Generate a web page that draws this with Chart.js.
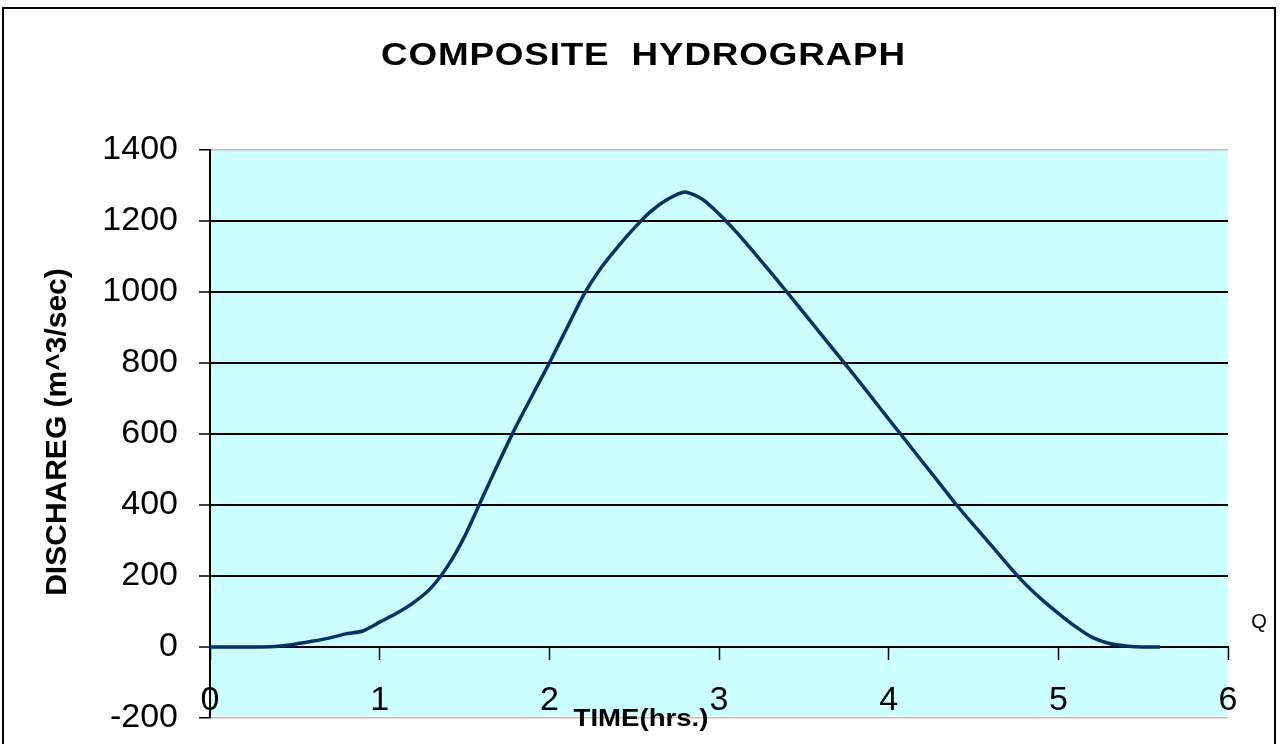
<!DOCTYPE html>
<html>
<head>
<meta charset="utf-8">
<script src="https://cdn.jsdelivr.net/npm/chart.js@4"></script>
<style>
  html, body { margin: 0; padding: 0; background: #fff; }
  canvas { display: block; }
</style>
</head>
<body>
<canvas id="hydro" width="1282" height="744"></canvas>
<script>
const chartTitle = 'COMPOSITE  HYDROGRAPH';
const xTitle = 'TIME(hrs.)';
const yTitle = 'DISCHAREG (m^3/sec)';
const seriesName = 'Q';

// time in hours
const timeHrs = [0, 0.1, 0.2, 0.3, 0.4, 0.5, 0.6, 0.7, 0.8, 0.9,
    1.0, 1.1, 1.2, 1.3, 1.4, 1.5, 1.6, 1.7, 1.8, 1.9,
    2.0, 2.1, 2.2, 2.3, 2.4, 2.5, 2.6, 2.7, 2.8, 2.9,
    3.0, 3.1, 3.2, 3.3, 3.4, 3.5, 3.6, 3.7, 3.8, 3.9,
    4.0, 4.1, 4.2, 4.3, 4.4, 4.5, 4.6, 4.7, 4.8, 4.9,
    5.0, 5.1, 5.2, 5.3, 5.4, 5.5, 5.6];
// discharge, m^3/sec
const discharge = [0, 0, 0, 0, 2, 8, 16, 25, 37, 45,
    70, 95, 125, 165, 227, 311, 415, 518, 618, 709,
    800, 895, 990, 1065, 1125, 1180, 1228, 1262, 1282, 1262,
    1220, 1170, 1115, 1058, 1000, 941, 882, 823, 764, 703,
    642, 582, 521, 461, 400, 344, 289, 233, 180, 135,
    95, 58, 27, 10, 3, 0, 0];

const yMin = -200, yMax = 1400, yStep = 200;
const xMin = 0, xMax = 6, xStep = 1;

const points = timeHrs.map((t, i) => ({ x: t, y: discharge[i] }));

const decor = {
    id: 'decor',
    beforeDraw(chart) {
        const { ctx, chartArea: a } = chart;
        ctx.save();
        ctx.fillStyle = '#ffffff';
        ctx.fillRect(0, 0, chart.width, chart.height);
        ctx.fillStyle = '#ccffff';
        ctx.fillRect(a.left, a.top, a.right - a.left, a.bottom - a.top - 2);
        ctx.restore();
    },
    afterDraw(chart) {
        const { ctx } = chart;
        ctx.save();
        // outer frame
        ctx.strokeStyle = '#000';
        ctx.lineWidth = 2;
        ctx.strokeRect(3, 8, 1272, 745);

        ctx.fillStyle = '#000';
        // main title: the source picture is stretched sideways
        ctx.save();
        ctx.font = 'bold 32px "Liberation Sans", Arial, sans-serif';
        ctx.textAlign = 'left';
        ctx.textBaseline = 'alphabetic';
        const sx = 1.15;
        const w = ctx.measureText(chartTitle).width * sx;
        const sp = Math.max(0, (524 - w) / (chartTitle.length - 1) / sx);
        ctx.letterSpacing = sp + 'px';
        ctx.translate(381, 65);
        ctx.scale(sx, 1);
        ctx.fillText(chartTitle, 0, 0);
        ctx.restore();

        // x title
        ctx.save();
        ctx.font = 'bold 24px "Liberation Sans", Arial, sans-serif';
        ctx.textAlign = 'center';
        ctx.translate(641, 726);
        ctx.scale(1.15, 1);
        ctx.fillText(xTitle, 0, 0);
        ctx.restore();

        // y title
        ctx.save();
        ctx.translate(66, 432);
        ctx.rotate(-Math.PI / 2);
        ctx.font = 'bold 30px "Liberation Sans", Arial, sans-serif';
        ctx.textAlign = 'center';
        ctx.fillText(yTitle, 0, 0);
        ctx.restore();

        // legend
        ctx.font = '20px "Liberation Sans", Arial, sans-serif';
        ctx.textAlign = 'center';
        ctx.fillText(chart.data.datasets[0].label, 1259, 628);
        ctx.restore();
    }
};

new Chart(document.getElementById('hydro'), {
    type: 'scatter',
    data: {
        datasets: [{
            label: seriesName,
            data: points,
            showLine: true,
            borderColor: '#003366',
            borderWidth: 3.5,
            pointRadius: 0,
            tension: 0.2
        }]
    },
    options: {
        responsive: false,
        animation: false,
        devicePixelRatio: 1,
        layout: { padding: { left: 10, top: 150, right: 54, bottom: 26 } },
        plugins: {
            legend: { display: false },
            title: { display: false },
            tooltip: { enabled: false }
        },
        scales: {
            x: {
                type: 'linear',
                position: { y: 0 },
                min: xMin,
                max: xMax,
                afterFit(scale) { scale.paddingTop = 0; scale.paddingBottom = 0; },
                ticks: {
                    stepSize: xStep,
                    autoSkip: false,
                    maxRotation: 0,
                    padding: 21,
                    color: '#000',
                    font: { family: '"Liberation Sans", Arial, sans-serif', size: 34 }
                },
                grid: {
                    drawOnChartArea: false,
                    drawTicks: true,
                    tickLength: 12,
                    tickColor: '#000',
                    tickWidth: 1.5
                },
                border: { display: true, color: '#000', width: 2 }
            },
            y: {
                min: yMin,
                max: yMax,
                afterFit(scale) {
                    scale.width = 200;
                    scale.paddingTop = 0;
                    scale.paddingBottom = 0;
                },
                ticks: {
                    stepSize: yStep,
                    padding: 21,
                    color: '#000',
                    callback: v => String(v),
                    font: { family: '"Liberation Sans", Arial, sans-serif', size: 34 }
                },
                grid: {
                    color: c => (c.tick.value === yMax || c.tick.value === yMin) ? '#c0c0c0' : '#000',
                    lineWidth: c => (c.tick.value === yMax || c.tick.value === yMin) ? 1.5 : 2,
                    tickLength: 11,
                    tickColor: '#000',
                    tickWidth: 1.5
                },
                border: { display: true, color: '#000', width: 2 }
            }
        }
    },
    plugins: [decor]
});
</script>
</body>
</html>
